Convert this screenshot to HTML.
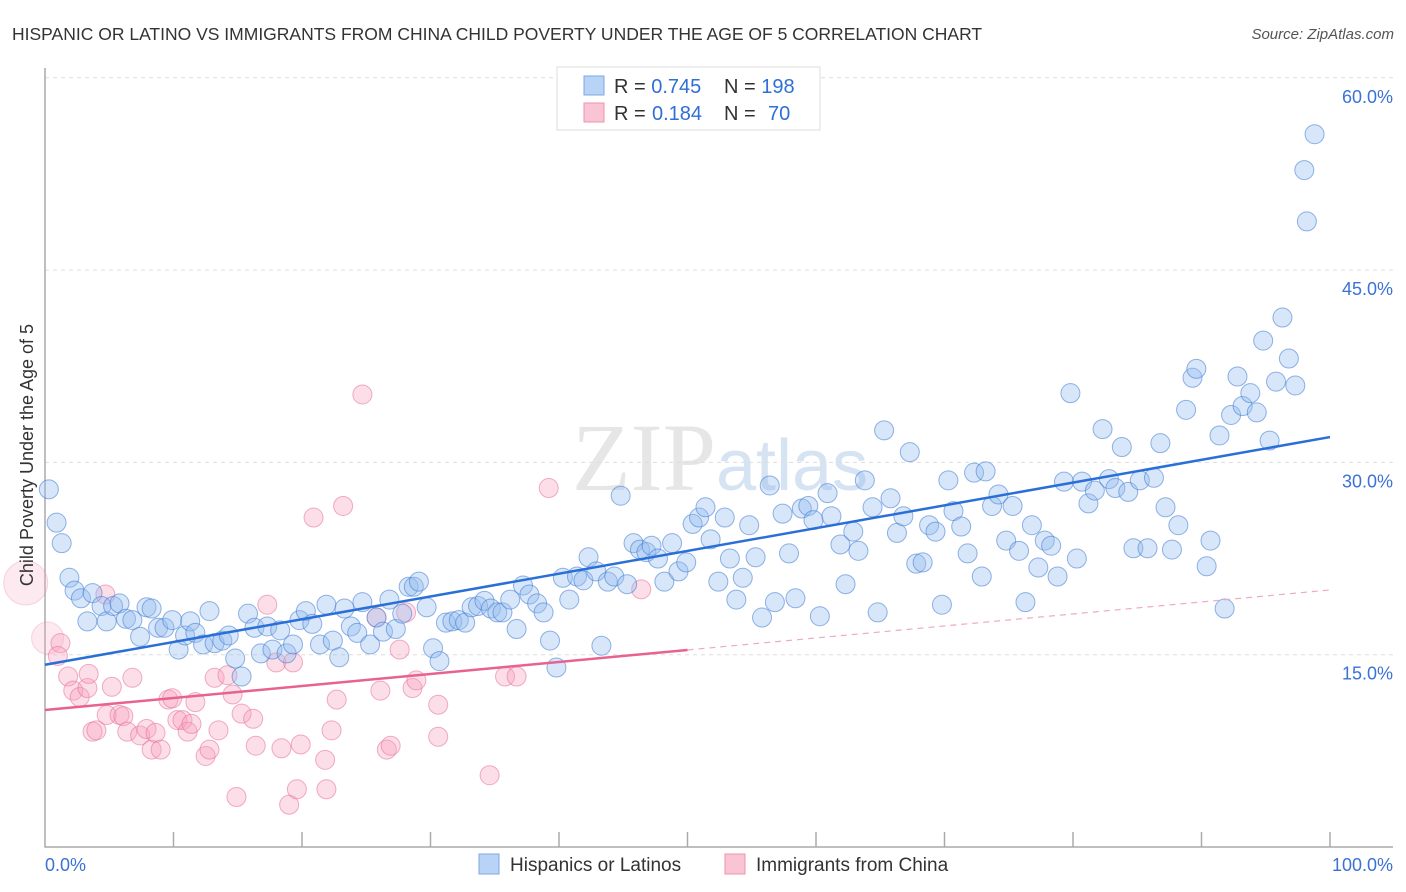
<!DOCTYPE html>
<html><head><meta charset="utf-8"><style>
body{margin:0;background:#fff;font-family:"Liberation Sans",sans-serif}
svg{display:block}
</style></head><body>
<svg id="c" width="1406" height="892" xmlns="http://www.w3.org/2000/svg">
<text x="12" y="40" font-size="17.5" fill="#333">HISPANIC OR LATINO VS IMMIGRANTS FROM CHINA CHILD POVERTY UNDER THE AGE OF 5 CORRELATION CHART</text>
<text x="1394" y="39" font-size="15" fill="#555" font-style="italic" text-anchor="end">Source: ZipAtlas.com</text>
<text x="720" y="490" font-size="96" fill="#e6e6e6" text-anchor="middle" font-family="Liberation Serif">ZIP<tspan fill="#d6e3f3" font-family="Liberation Sans" font-size="72">atlas</tspan></text>
<g id="grid"></g><g id="pts"></g><g id="lines"></g>
<text transform="translate(33,455) rotate(-90)" font-size="18" fill="#333" text-anchor="middle">Child Poverty Under the Age of 5</text>
<g>
<rect x="557" y="67" width="263" height="63" fill="#fff" stroke="#ddd"/>
<rect x="584" y="76" width="20" height="19" fill="#b8d3f5" stroke="#7aa8e6"/>
<rect x="584" y="103" width="20" height="19" fill="#f9c4d4" stroke="#ef90ae"/>
<text x="614" y="93" font-size="20" fill="#333">R = <tspan fill="#2f6fd6">0.745</tspan><tspan x="724">N = </tspan><tspan fill="#2f6fd6">198</tspan></text>
<text x="614" y="120" font-size="20" fill="#333">R = <tspan fill="#2f6fd6" x="652">0.184</tspan><tspan x="724">N = </tspan><tspan fill="#2f6fd6" x="768">70</tspan></text>
</g>
<g>
<rect x="479" y="854" width="20" height="20" fill="#b8d3f5" stroke="#7aa8e6"/>
<text x="510" y="871" font-size="19" fill="#333">Hispanics or Latinos</text>
<rect x="725" y="854" width="20" height="20" fill="#f9c4d4" stroke="#ef90ae"/>
<text x="756" y="871" font-size="19" fill="#333">Immigrants from China</text>
</g>
</svg>
<script>
const yTicks=[15,30,45,60];
const yTickLabels=["15.0%","30.0%","45.0%","60.0%"];
const xLabels=["0.0%","100.0%"];
const blueX=[0.3,0.9,1.3,1.9,2.3,2.8,3.3,3.7,4.4,4.8,5.3,5.8,6.3,6.8,7.4,7.9,8.3,8.8,9.3,9.9,10.4,10.9,11.3,11.7,12.3,12.8,13.2,13.8,14.3,14.8,15.3,15.8,16.3,16.8,17.3,17.7,18.3,18.8,19.3,19.8,20.3,20.8,21.4,21.9,22.4,22.9,23.3,23.8,24.3,24.7,25.3,25.8,26.3,26.8,27.3,27.8,28.3,28.7,29.1,29.7,30.2,30.7,31.2,31.7,32.2,32.7,33.2,33.7,34.2,34.7,35.2,35.6,36.2,36.7,37.2,37.7,38.3,38.8,39.3,39.8,40.3,40.8,41.4,41.9,42.3,42.9,43.3,43.8,44.3,44.8,45.3,45.8,46.3,46.8,47.2,47.7,48.2,48.8,49.3,49.9,50.4,50.9,51.4,51.8,52.4,52.9,53.3,53.8,54.3,54.8,55.3,55.8,56.4,56.8,57.4,57.9,58.4,58.9,59.4,59.8,60.3,60.9,61.2,61.9,62.3,62.9,63.3,63.8,64.4,64.8,65.3,65.8,66.3,66.8,67.3,67.8,68.3,68.8,69.3,69.8,70.3,70.7,71.3,71.8,72.3,72.9,73.2,73.7,74.2,74.8,75.3,75.8,76.3,76.8,77.3,77.8,78.3,78.8,79.3,79.8,80.3,80.7,81.2,81.7,82.3,82.8,83.3,83.8,84.3,84.7,85.2,85.8,86.3,86.8,87.2,87.7,88.2,88.8,89.3,89.6,90.4,90.7,91.4,91.8,92.3,92.8,93.2,93.8,94.3,94.8,95.3,95.8,96.3,96.8,97.3,98.0,98.2,98.8];
const blueY=[27.9,25.3,23.7,21.0,20.0,19.4,17.6,19.8,18.8,17.6,18.8,19.0,17.8,17.7,16.4,18.7,18.6,17.1,17.1,17.7,15.4,16.5,17.6,16.7,15.8,18.4,15.9,16.1,16.5,14.7,13.3,18.2,17.1,15.1,17.2,15.4,16.9,15.1,15.8,17.7,18.4,17.4,15.8,18.9,16.1,14.8,18.6,17.2,16.7,19.1,15.8,17.9,16.8,19.3,17.0,18.2,20.3,20.3,20.7,18.7,15.5,14.5,17.5,17.6,17.7,17.5,18.7,18.8,19.2,18.6,18.3,18.3,19.3,17.0,20.4,19.7,19.0,18.3,16.1,14.0,21.0,19.3,21.1,20.8,22.6,21.5,15.7,20.7,21.1,27.4,20.5,23.7,23.2,23.0,23.5,22.5,20.7,23.7,21.5,22.2,25.2,25.7,26.5,24.0,20.7,25.7,22.5,19.3,21.0,25.1,22.6,17.9,28.2,19.1,26.0,22.9,19.4,26.4,26.6,25.5,18.0,27.6,25.8,23.6,20.5,24.6,23.1,28.6,26.5,18.3,32.5,27.2,24.5,25.8,30.8,22.1,22.2,25.1,24.6,18.9,28.6,26.2,25.0,22.9,29.2,21.1,29.3,26.6,27.5,23.9,26.6,23.1,19.1,25.1,21.8,23.9,23.5,21.1,28.5,35.4,22.5,28.5,26.8,27.8,32.6,28.7,28.0,31.2,27.7,23.3,28.6,23.3,28.8,31.5,26.5,23.2,25.1,34.1,36.6,37.3,21.9,23.9,32.1,18.6,33.7,36.7,34.4,35.4,33.9,39.5,31.7,36.3,41.3,38.1,36.0,52.8,48.8,55.6];
const pinkX=[-1.5,0.2,1.2,1.0,1.8,2.2,2.7,3.3,3.4,3.7,4.0,4.7,4.8,5.2,5.8,6.1,6.4,6.8,7.4,7.9,8.3,8.6,9.0,9.6,9.9,10.3,10.7,11.1,11.4,11.7,12.5,12.8,13.2,13.5,14.2,14.6,14.9,15.3,16.2,16.4,17.3,18.0,18.4,19.0,19.3,19.6,19.9,20.9,21.8,21.9,22.3,22.7,23.2,24.7,25.8,26.1,26.6,26.9,27.6,28.1,28.6,28.9,30.6,30.6,34.6,35.8,36.7,39.2,46.4];
const pinkY=[20.6,16.3,15.9,14.9,13.3,12.2,11.7,12.4,13.5,9.0,9.1,19.7,10.3,12.5,10.3,10.2,9.0,13.2,8.7,9.2,7.6,8.9,7.6,11.5,11.6,9.9,9.9,9.0,9.6,11.3,7.1,7.6,13.2,9.1,13.4,11.9,3.9,10.4,10.0,7.9,18.9,14.4,7.7,3.3,14.4,4.5,8.0,25.7,6.8,4.5,9.1,11.5,26.6,35.3,17.9,12.2,7.6,7.9,15.4,18.3,12.4,13.0,11.1,8.6,5.6,13.3,13.3,28.0,20.1];
const pinkR=[22,16];
const NS="http://www.w3.org/2000/svg";
const X=v=>45+v*12.85, Y=v=>847-v*12.82;
function mk(t,a,p){const e=document.createElementNS(NS,t);for(const k in a)e.setAttribute(k,a[k]);p.appendChild(e);return e;}
const grid=document.getElementById('grid');
yTicks.forEach((t,i)=>{
 const l=mk('line',{x1:45,x2:1393,y1:Y(t),y2:Y(t),stroke:'#ddd','stroke-dasharray':'4,4'},grid);
 
 
 const tx=mk('text',{x:1393,y:Y(t)+25,'font-size':18,fill:'#3b72d6','text-anchor':'end'},grid);
 tx.textContent=yTickLabels[i];
 
 
});
const ax=mk('path',{d:'M45,68V847H1393',fill:'none',stroke:'#aaa','stroke-width':1.5},grid);


for(let i=1;i<=10;i++){const t=mk('line',{x1:X(i*10),x2:X(i*10),y1:832,y2:847,stroke:'#aaa','stroke-width':1.5},grid);
 
 }
[[0,'start',45],[100,'end',1393]].forEach((d,i)=>{const t=mk('text',{x:d[2],y:871,'font-size':18,fill:'#3b72d6','text-anchor':d[1]},grid);t.textContent=xLabels[i];
 
 });
const pts=document.getElementById('pts');
pinkX.forEach((x,i)=>{const big=pinkR[i];const c=mk('circle',{cx:X(x),cy:Y(pinkY[i]),r:big||9.5,fill:big?'rgba(246,170,195,0.25)':'rgba(246,160,188,0.35)',stroke:big?'rgba(232,130,165,0.3)':'rgba(232,110,150,0.55)','stroke-width':1},pts);
 
 });
blueX.forEach((x,i)=>{const c=mk('circle',{cx:X(x),cy:Y(blueY[i]),r:9.5,fill:'rgba(150,190,240,0.38)',stroke:'rgba(60,120,210,0.55)','stroke-width':1},pts);
 
 });
function fit(xs,ys){const n=xs.length;let mx=0,my=0;for(let i=0;i<n;i++){mx+=xs[i];my+=ys[i];}mx/=n;my/=n;let a=0,b=0;for(let i=0;i<n;i++){a+=(xs[i]-mx)*(ys[i]-my);b+=(xs[i]-mx)**2;}const s=a/b;return x=>my+s*(x-mx);}
const lines=document.getElementById('lines');
const fb=fit(blueX,blueY), fp=fit(pinkX,pinkY);
let l=mk('line',{x1:X(0),y1:Y(fb(0)),x2:X(100),y2:Y(fb(100)),stroke:'#2a6fd8','stroke-width':2.5},lines);


l=mk('line',{x1:X(0),y1:Y(fp(0)),x2:X(50),y2:Y(fp(50)),stroke:'#e8628f','stroke-width':2.5},lines);


l=mk('line',{x1:X(50),y1:Y(fp(50)),x2:X(100),y2:Y(fp(100)),stroke:'#eeaac0','stroke-width':1.2,'stroke-dasharray':'6,5'},lines);


</script>
</body></html>
